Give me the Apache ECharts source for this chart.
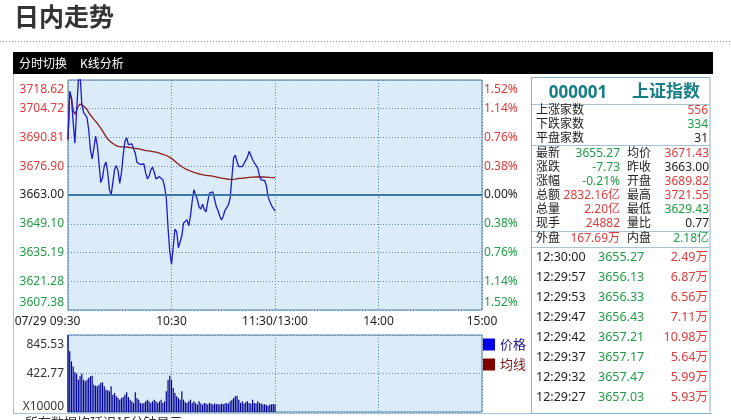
<!DOCTYPE html>
<html>
<head>
<meta charset="utf-8">
<script src="https://cdn.jsdelivr.net/npm/echarts/dist/echarts.min.js"></script>
<style>
html,body{margin:0;padding:0;background:#fff;}
#c{width:731px;height:420px;}
</style>
</head>
<body>
<div id="c"></div>
<script>
// ---------------- data ----------------
const PREV_CLOSE = 3663.00;
// left tick labels, bottom -> top
const LEFT_LABELS = ['3607.38','3621.28','3635.19','3649.10','3663.00','3676.90','3690.81','3704.72','3718.62'];
// right tick labels, bottom -> top
const RIGHT_LABELS = ['1.52%','1.14%','0.76%','0.38%','0.00%','0.38%','0.76%','1.14%','1.52%'];
const X_TICK_LABELS = ['07/29 09:30','10:30','11:30/13:00','14:00','15:00'];
const VOL_LABELS = ['X10000','422.77','845.53'];
const Y_MIN_OFF = -55.62, Y_MAX_OFF = 55.62, Y_STEP = 13.905;
const VOL_MAX = 845.53;

// minute price (09:30 - 11:30)
const price = [
3689.82,3713.2,3710.0,3698.0,3688.0,3704.0,3718.0,3721.55,3707.0,3703.0,
3703.0,3700.5,3694.5,3685.0,3680.5,3685.5,3691.5,3687.0,3678.0,3669.0,
3671.3,3677.0,3679.0,3674.0,3665.6,3663.1,3669.0,3675.3,3677.3,3674.8,
3668.6,3673.8,3682.4,3689.0,3690.7,3687.4,3686.6,3687.7,3687.6,3683.2,
3678.7,3677.9,3677.8,3678.5,3678.0,3673.8,3670.8,3672.1,3675.1,3676.5,
3674.0,3670.8,3671.7,3671.9,3672.7,3670.3,3667.0,3661.5,3647.0,3635.7,
3629.43,3637.8,3646.5,3645.2,3637.5,3636.8,3643.3,3649.5,3648.7,3651.0,
3648.1,3652.9,3660.1,3665.5,3664.6,3660.7,3657.2,3656.2,3658.6,3656.0,
3654.8,3659.7,3663.9,3663.9,3664.5,3663.8,3657.3,3655.4,3652.7,3650.9,
3652.7,3655.6,3656.9,3658.3,3661.5,3671.3,3681.0,3682.3,3679.1,3676.7,
3677.5,3676.7,3678.2,3677.7,3681.3,3684.1,3684.0,3680.2,3678.5,3677.3,
3676.0,3672.3,3670.3,3670.3,3670.0,3667.6,3662.1,3659.9,3657.9,3656.5,
3655.27
];
// minute average price
const avgPrice = [
3689.82,3712.0,3710.0,3704.0,3702.0,3704.0,3706.0,3707.0,3706.5,3706.0,
3705.5,3704.5,3702.8,3701.7,3700.7,3699.6,3698.7,3697.7,3696.4,3695.3,
3694.0,3692.7,3691.4,3690.1,3689.2,3688.5,3688.0,3687.3,3686.8,3686.5,
3686.3,3686.3,3686.3,3686.3,3686.3,3686.1,3685.9,3685.8,3685.7,3685.6,
3685.5,3685.3,3685.1,3684.9,3684.7,3684.5,3684.4,3684.3,3684.1,3684.0,
3683.9,3683.7,3683.4,3683.2,3683.0,3682.7,3682.4,3682.1,3681.7,3681.2,
3680.9,3680.1,3679.4,3678.6,3677.9,3677.3,3676.7,3676.2,3675.7,3675.3,
3674.9,3674.6,3674.3,3673.9,3673.6,3673.4,3673.3,3673.0,3672.8,3672.6,
3672.5,3672.4,3672.35,3672.2,3672.0,3671.9,3671.7,3671.5,3671.4,3671.2,
3671.07,3670.9,3670.7,3670.6,3670.6,3670.6,3670.6,3670.7,3670.9,3671.0,
3671.07,3671.1,3671.2,3671.3,3671.4,3671.5,3671.55,3671.6,3671.7,3671.7,
3671.7,3671.7,3671.7,3671.7,3671.7,3671.6,3671.55,3671.5,3671.5,3671.45,
3671.43
];
// minute volume (x10000)
const volume = [
845.53,666,556,501,436,421,355,392,421,355,
337,355,373,392,399,300,289,282,300,318,
326,282,245,238,227,282,190,209,172,154,
135,154,165,190,216,165,135,117,99,216,
154,135,99,92,99,117,135,117,99,117,
135,117,99,117,135,99,117,227,355,399,
355,264,209,172,154,135,227,135,106,99,
117,135,99,117,99,81,117,92,81,99,
92,81,99,92,81,92,84,88,81,92,
84,92,99,92,117,135,154,172,179,135,
99,117,92,106,117,99,92,135,99,92,
117,99,92,81,84,77,70,81,84,88,
81
];

// right panel
const PANEL_CODE = '000001';
const PANEL_NAME = '上证指数';
const BREADTH = [['上涨家数','556','r'],['下跌家数','334','g'],['平盘家数','31','k']];
const QUOTES = [
  ['最新','3655.27','g','均价','3671.43','r'],
  ['涨跌','-7.73','g','昨收','3663.00','k'],
  ['涨幅','-0.21%','g','开盘','3689.82','r'],
  ['总额','2832.16亿','r','最高','3721.55','r'],
  ['总量','2.20亿','r','最低','3629.43','g'],
  ['现手','24882','r','量比','0.77','k']
];
const OUTER_INNER = ['外盘','167.69万','r','内盘','2.18亿','g'];
const TICKS = [
  ['12:30:00','3655.27','2.49万'],
  ['12:29:57','3656.13','6.87万'],
  ['12:29:53','3656.33','6.56万'],
  ['12:29:47','3656.43','7.11万'],
  ['12:29:42','3657.21','10.98万'],
  ['12:29:37','3657.17','5.64万'],
  ['12:29:32','3657.47','5.99万'],
  ['12:29:27','3657.03','5.93万']
];

// ---------------- build ----------------
const pad2 = n => (n < 10 ? '0' : '') + n;
const times = [];
for (let m = 570; m <= 690; m++) times.push(pad2(Math.floor(m / 60)) + ':' + pad2(m % 60));
for (let m = 781; m <= 900; m++) times.push(pad2(Math.floor(m / 60)) + ':' + pad2(m % 60));

const priceOff = price.map(p => +(p - PREV_CLOSE).toFixed(3));
const avgOff = avgPrice.map(p => +(p - PREV_CLOSE).toFixed(3));

const RED = '#e23a3a', GREEN = '#1f9d45', BLACK = '#222';
const COL = { r: RED, g: GREEN, k: BLACK };
const NUMFONT = '"Noto Sans","Noto Sans CJK SC",sans-serif';
const CJK = '"Noto Sans CJK SC","Noto Sans",sans-serif';

const axisRich = {};
['r', 'g', 'k'].forEach(c => {
  axisRich[c] = { color: COL[c], fontSize: 12, fontFamily: NUMFONT };
  axisRich[c + 'T'] = { color: COL[c], fontSize: 12, fontFamily: NUMFONT, padding: [20, 0, 0, 0] };
  axisRich[c + 'B'] = { color: COL[c], fontSize: 12, fontFamily: NUMFONT, padding: [0, 0, 14, 0] };
});
function priceLabel(arr) {
  return function (v) {
    const i = Math.round((v - Y_MIN_OFF) / Y_STEP);
    const c = i > 4 ? 'r' : (i === 4 ? 'k' : 'g');
    const s = i === 8 ? 'T' : (i === 0 ? 'B' : '');
    return '{' + c + s + '|' + arr[i] + '}';
  };
}
const every60 = (idx) => idx % 60 === 0;
const dotted = { color: '#5f8bad', width: 1, type: [1, 2] };

// graphic elements (frame + right panel)
const G = [];
G.push({ type: 'text', x: 14, y: 4, style: { text: '日内走势', font: 'bold 25px ' + CJK, fill: '#333' } });
G.push({ type: 'line', shape: { x1: 0, y1: 41.5, x2: 731, y2: 41.5 }, style: { stroke: '#888', lineWidth: 1, lineDash: [1, 2] } });
G.push({ type: 'rect', shape: { x: 13, y: 52, width: 700, height: 22 }, style: { fill: '#000' } });
G.push({ type: 'text', x: 19, y: 63, style: { text: '分时切换', font: '12px ' + CJK, fill: '#fff', verticalAlign: 'middle' } });
G.push({ type: 'text', x: 80, y: 63, style: { text: 'K线分析', font: '12px ' + CJK, fill: '#fff', verticalAlign: 'middle' } });
G.push({ type: 'line', shape: { x1: 13.5, y1: 74, x2: 13.5, y2: 413.5 }, style: { stroke: '#a9c3d6', lineWidth: 1 } });
G.push({ type: 'line', shape: { x1: 13, y1: 413.5, x2: 712, y2: 413.5 }, style: { stroke: '#a9c3d6', lineWidth: 1 } });
G.push({ type: 'rect', shape: { x: 531.5, y: 77.5, width: 178.5, height: 336 }, style: { fill: 'none', stroke: '#8fb0c8', lineWidth: 1 } });
[104.5, 145.5, 231.5, 247.5].forEach(y => G.push({ type: 'line', shape: { x1: 532, y1: y, x2: 710, y2: y }, style: { stroke: '#a9c3d6', lineWidth: 1 } }));
G.push({ type: 'text', x: 578, y: 93, style: { text: PANEL_CODE, font: 'bold 17px ' + NUMFONT, fill: '#177d86', align: 'center', verticalAlign: 'middle' } });
G.push({ type: 'text', x: 666, y: 91, style: { text: PANEL_NAME, font: 'bold 17px ' + CJK, fill: '#177d86', align: 'center', verticalAlign: 'middle' } });
function txt(t, x, y, color, align, size) {
  G.push({ type: 'text', x: x, y: y, style: { text: t, font: (size || 12) + 'px ' + NUMFONT, fill: color, align: align || 'left', verticalAlign: 'middle' } });
}
BREADTH.forEach((r, k) => {
  const y = 111 + k * 13.7;
  txt(r[0], 536, y, BLACK);
  txt(r[1], 708, y, COL[r[2]], 'right');
});
QUOTES.forEach((r, k) => {
  const y = 154 + k * 14;
  txt(r[0], 536, y, BLACK);
  txt(r[1], 620, y, COL[r[2]], 'right');
  txt(r[3], 627, y, BLACK);
  txt(r[4], 709, y, COL[r[5]], 'right');
});
txt(OUTER_INNER[0], 536, 239, BLACK);
txt(OUTER_INNER[1], 620, 239, COL[OUTER_INNER[2]], 'right');
txt(OUTER_INNER[3], 627, 239, BLACK);
txt(OUTER_INNER[4], 709, 239, COL[OUTER_INNER[5]], 'right');
TICKS.forEach((r, k) => {
  const y = 257.5 + k * 20;
  txt(r[0], 536, y, BLACK, 'left', 12.5);
  txt(r[1], 598, y, GREEN, 'left', 12.5);
  txt(r[2], 708, y, RED, 'right', 12.5);
});
G.push({ type: 'text', x: 25, y: 416, style: { text: '所有数据均延迟15分钟显示', font: '13px ' + CJK, fill: '#333' } });

const chart = echarts.init(document.getElementById('c'), null, { renderer: 'canvas' });
chart.setOption({
  animation: false,
  backgroundColor: '#fff',
  textStyle: { fontFamily: NUMFONT },
  grid: [
    { left: 68, top: 80, width: 414, height: 230, show: true, backgroundColor: '#dcebf8', borderColor: '#4a80a8', borderWidth: 1, containLabel: false, outerBoundsMode: 'none' },
    { left: 68, top: 335, width: 414, height: 77, show: true, backgroundColor: '#dcebf8', borderColor: '#4a80a8', borderWidth: 1, containLabel: false, outerBoundsMode: 'none' }
  ],
  legend: {
    orient: 'vertical', left: 483, top: 338, padding: 0,
    itemWidth: 12, itemHeight: 12, itemGap: 7, icon: 'rect', selectedMode: false,
    textStyle: { fontSize: 13, fontFamily: CJK },
    data: [
      { name: '价格', textStyle: { color: '#1a1a80' } },
      { name: '均线', textStyle: { color: '#7a1414' } }
    ]
  },
  xAxis: [
    {
      type: 'category', gridIndex: 0, data: times, boundaryGap: false,
      axisLine: { show: false }, axisTick: { show: false },
      axisLabel: {
        interval: every60, margin: 6, color: '#222', fontSize: 12, fontFamily: NUMFONT,
        formatter: (v, i) => {
          const k = Math.round(i / 60);
          return k === 0 ? '{f|' + X_TICK_LABELS[0] + '}' : X_TICK_LABELS[k];
        },
        rich: { f: { color: '#222', fontSize: 12, fontFamily: NUMFONT, padding: [0, 41, 0, 0] } }
      },
      splitLine: { show: true, interval: every60, lineStyle: dotted }
    },
    {
      type: 'category', gridIndex: 1, data: times, boundaryGap: false,
      axisLine: { show: false }, axisTick: { show: false }, axisLabel: { show: false },
      splitLine: { show: true, interval: every60, lineStyle: dotted }
    }
  ],
  yAxis: [
    {
      type: 'value', gridIndex: 0, min: Y_MIN_OFF, max: Y_MAX_OFF, interval: Y_STEP,
      axisLine: { show: false }, axisTick: { show: false },
      axisLabel: { margin: 4, formatter: priceLabel(LEFT_LABELS), rich: axisRich },
      splitLine: { show: true, lineStyle: dotted }
    },
    {
      type: 'value', gridIndex: 0, position: 'right', min: Y_MIN_OFF, max: Y_MAX_OFF, interval: Y_STEP,
      axisLine: { show: false }, axisTick: { show: false },
      axisLabel: { margin: 2, formatter: priceLabel(RIGHT_LABELS), rich: axisRich },
      splitLine: { show: false }
    },
    {
      type: 'value', gridIndex: 1, min: 0, max: VOL_MAX, interval: VOL_MAX / 2,
      axisLine: { show: false }, axisTick: { show: false },
      axisLabel: {
        margin: 4,
        formatter: v => {
          const i = Math.round(v / (VOL_MAX / 2));
          return '{' + (i === 2 ? 't' : (i === 0 ? 'b' : 'm')) + '|' + VOL_LABELS[i] + '}';
        },
        rich: {
          t: { color: '#333', fontSize: 12, fontFamily: NUMFONT, padding: [20, 0, 0, 0] },
          m: { color: '#333', fontSize: 12, fontFamily: NUMFONT },
          b: { color: '#333', fontSize: 12, fontFamily: NUMFONT, padding: [0, 0, 10, 0] }
        }
      },
      splitLine: { show: true, lineStyle: dotted }
    }
  ],
  series: [
    {
      name: '价格', type: 'line', xAxisIndex: 0, yAxisIndex: 0, data: priceOff,
      showSymbol: false, symbol: 'none', clip: true,
      lineStyle: { color: '#1c1ccc', width: 1.3 }, itemStyle: { color: '#0000e6' },
      markLine: {
        silent: true, symbol: ['none', 'none'], label: { show: false },
        lineStyle: { color: '#3a78a8', width: 2, type: 'solid' },
        data: [{ yAxis: 0 }]
      },
      z: 3
    },
    {
      name: '均线', type: 'line', xAxisIndex: 0, yAxisIndex: 0, data: avgOff,
      showSymbol: false, symbol: 'none', clip: true,
      lineStyle: { color: '#8b1c1c', width: 1.3 }, itemStyle: { color: '#800000' },
      z: 2
    },
    {
      name: '成交量', type: 'bar', xAxisIndex: 1, yAxisIndex: 2, data: volume,
      barWidth: 1.2, itemStyle: { color: '#000096' }
    }
  ],
  graphic: G
});
</script>
</body>
</html>
